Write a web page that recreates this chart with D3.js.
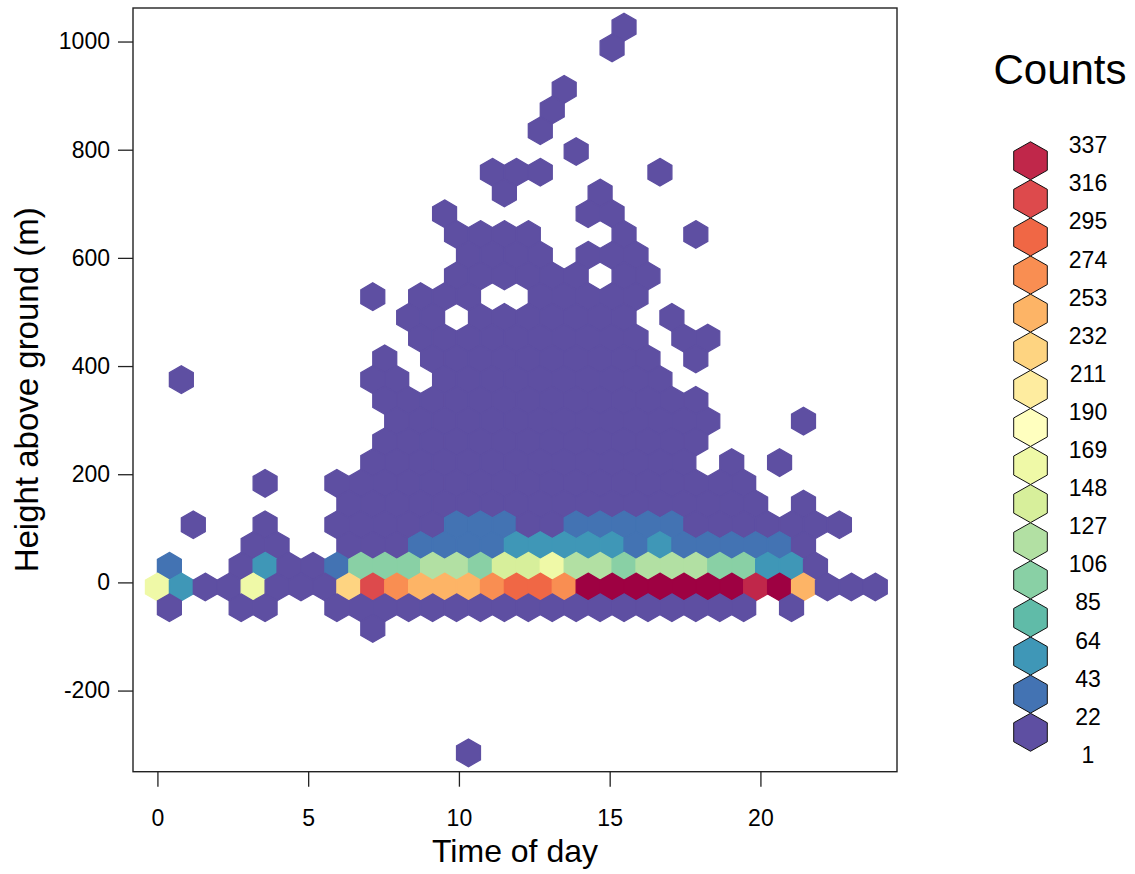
<!DOCTYPE html>
<html>
<head>
<meta charset="utf-8">
<script src="https://cdn.jsdelivr.net/npm/d3@7"></script>
<style>
  body { margin: 0; background: #fff; }
  text { font-family: "Liberation Sans", Arial, sans-serif; fill: #000; }
</style>
</head>
<body>
<svg id="chart" width="1135" height="874"></svg>
<script>
// tick labels
const xTicks = [0, 5, 10, 15, 20]
const yTicks = [-200, 0, 200, 400, 600, 800, 1000]
const legendBreaks = [1, 22, 43, 64, 85, 106, 127, 148, 169, 190, 211, 232, 253, 274, 295, 316, 337]

// hexbin cells, one row of the hex grid per entry (row 0 sits just below 0 m)
// rowStarts = column of the first value, 0 = empty cell
const rowIds = [27, 26, 24, 23, 22, 21, 20, 19, 18, 17, 16, 15, 14, 13, 12, 11, 10, 9, 8, 7, 6, 5, 4, 3, 2, 1, 0, -1, -2, -8]
const rowStarts = [19, 19, 17, 16, 16, 17, 14, 14, 12, 12, 13, 12, 9, 10, 11, 9, 1, 9, 10, 9, 9, 4, 8, 1, 4, 0, 0, 0, 9, 13]
const rowCounts = [
  [1],
  [2],
  [1],
  [1],
  [1],
  [1],
  [1, 2, 1, 0, 0, 0, 0, 1],
  [2, 0, 0, 0, 1],
  [1, 0, 0, 0, 0, 0, 2, 1],
  [2, 3, 2, 1, 0, 0, 0, 2, 0, 0, 1],
  [2, 3, 3, 2, 0, 2, 3, 1],
  [1, 3, 4, 3, 3, 4, 0, 3, 1],
  [1, 0, 2, 3, 2, 0, 0, 4, 3, 4, 3, 1],
  [1, 3, 0, 4, 5, 4, 5, 5, 4, 3, 0, 1],
  [2, 4, 5, 6, 5, 6, 7, 6, 4, 2, 0, 1, 1],
  [1, 0, 3, 5, 6, 7, 6, 7, 8, 7, 6, 4, 0, 1],
  [1, 0, 0, 0, 0, 0, 0, 0, 2, 3, 0, 5, 6, 8, 9, 8, 9, 8, 7, 5, 2],
  [1, 3, 5, 7, 8, 9, 10, 9, 10, 9, 8, 6, 3, 1],
  [2, 5, 7, 9, 10, 11, 10, 11, 10, 9, 8, 5, 3, 1, 0, 0, 0, 1],
  [1, 4, 6, 8, 10, 11, 10, 10, 11, 10, 9, 7, 4, 2],
  [2, 5, 7, 9, 10, 11, 10, 10, 10, 9, 9, 8, 5, 3, 0, 1, 0, 1],
  [1, 0, 0, 1, 3, 6, 8, 9, 10, 10, 10, 10, 10, 10, 9, 9, 8, 6, 4, 2, 1],
  [2, 5, 8, 9, 10, 10, 10, 10, 10, 10, 10, 10, 9, 8, 6, 4, 2, 1, 0, 1],
  [1, 0, 0, 1, 0, 0, 2, 5, 8, 10, 11, 24, 26, 22, 11, 10, 23, 25, 24, 22, 21, 9, 7, 5, 3, 2, 1, 1],
  [3, 2, 0, 0, 6, 9, 11, 22, 27, 29, 30, 44, 46, 45, 41, 40, 30, 43, 31, 28, 25, 24, 21, 7],
  [24, 0, 0, 8, 42, 9, 10, 25, 86, 88, 84, 104, 108, 90, 125, 128, 150, 105, 110, 91, 107, 112, 103, 86, 84, 45, 41, 6],
  [147, 44, 6, 5, 152, 7, 9, 10, 212, 296, 250, 230, 236, 233, 255, 275, 272, 252, 335, 337, 336, 337, 334, 336, 331, 318, 333, 229, 8, 4, 3],
  [3, 0, 0, 4, 5, 0, 0, 6, 8, 9, 9, 10, 10, 10, 10, 9, 10, 10, 9, 9, 8, 8, 7, 6, 4, 0, 2],
  [1],
  [1]
]

// hex grid as laid out by hexbin (30 columns over the time range)
const xStep = 23.81 / 30
const yStep = 38.34
const yOrigin = -8.5

const spectral = ['#9E0142', '#D53E4F', '#F46D43', '#FDAE61', '#FEE08B', '#FFFFBF',
  '#E6F598', '#ABDDA4', '#66C2A5', '#3288BD', '#5E4FA2'].reverse()
const ramp = d3.scaleLinear()
  .domain(d3.range(spectral.length).map(i => i / (spectral.length - 1)))
  .range(spectral)
  .interpolate(d3.interpolateRgb)
const nLevels = legendBreaks.length - 1
const breakStep = legendBreaks[1] - legendBreaks[0]
const countColor = c => ramp(Math.min(nLevels, Math.round((c - legendBreaks[0]) / breakStep)) / nLevels)

const cells = []
rowIds.forEach((j, k) => {
  rowCounts[k].forEach((c, n) => {
    if (!c) return
    const col = rowStarts[k] + n + (Math.abs(j) % 2 === 1 ? 0.5 : 0)
    cells.push({ t: col * xStep, h: yOrigin + j * yStep, count: c })
  })
})

const svg = d3.select('#chart')
const box = { left: 133, right: 897, top: 8, bottom: 771.7 }

const x = d3.scaleLinear().domain([-0.81, 24.53]).range([box.left, box.right])
const y = d3.scaleLinear().domain([-350, 1062]).range([box.bottom, box.top])

const hw = (x(xStep) - x(0)) / 2
const r = (y(0) - y(yStep)) / 1.5
const hexShape = (w, h) => [[0, -h], [w, -h / 2], [w, h / 2], [0, h], [-w, h / 2], [-w, -h / 2]]
const hexLine = d3.line().curve(d3.curveLinearClosed)

// hexagons
svg.append('g')
  .selectAll('path')
  .data(cells)
  .join('path')
  .attr('transform', d => `translate(${x(d.t)},${y(d.h)})`)
  .attr('d', hexLine(hexShape(hw, r)))
  .attr('fill', d => countColor(d.count))
  .attr('stroke', d => countColor(d.count))
  .attr('stroke-width', 1.3)
  .attr('stroke-linejoin', 'miter')

// frame
svg.append('rect')
  .attr('x', box.left)
  .attr('y', box.top)
  .attr('width', box.right - box.left)
  .attr('height', box.bottom - box.top)
  .attr('fill', 'none')
  .attr('stroke', '#222')
  .attr('stroke-width', 1.4)

const plain = d => String(d)

// x axis
const xAxis = svg.append('g')
  .attr('transform', `translate(0,${box.bottom})`)
  .call(d3.axisBottom(x).tickValues(xTicks).tickFormat(plain).tickSize(15).tickPadding(23))
xAxis.select('.domain').remove()
xAxis.selectAll('line').attr('stroke', '#222').attr('stroke-width', 1.3)
xAxis.selectAll('text')
  .attr('font-size', 23)
  .attr('font-family', '"Liberation Sans", Arial, sans-serif')
  .attr('fill', '#000')

// y axis
const yAxis = svg.append('g')
  .attr('transform', `translate(${box.left},0)`)
  .call(d3.axisLeft(y).tickValues(yTicks).tickFormat(plain).tickSize(15).tickPadding(8))
yAxis.select('.domain').remove()
yAxis.selectAll('line').attr('stroke', '#222').attr('stroke-width', 1.3)
yAxis.selectAll('text')
  .attr('font-size', 23)
  .attr('font-family', '"Liberation Sans", Arial, sans-serif')
  .attr('fill', '#000')

// axis titles
svg.append('text')
  .attr('x', (box.left + box.right) / 2)
  .attr('y', 862)
  .attr('text-anchor', 'middle')
  .attr('font-size', 32)
  .text('Time of day')

svg.append('text')
  .attr('transform', `translate(38,${(box.top + box.bottom) / 2}) rotate(-90)`)
  .attr('text-anchor', 'middle')
  .attr('font-size', 33)
  .text('Height above ground (m)')

// legend
const legend = svg.append('g')
legend.append('text')
  .attr('x', 1060)
  .attr('y', 84)
  .attr('text-anchor', 'middle')
  .attr('font-size', 42)
  .text('Counts')

const legendY = d3.scaleLinear().domain([0, nLevels]).range([751.3, 141.7])
const legendLevels = d3.range(nLevels)

legend.selectAll('path')
  .data(legendLevels)
  .join('path')
  .attr('transform', k => `translate(1030.5,${legendY(k + 0.5)})`)
  .attr('d', hexLine(hexShape(16.8, 19)))
  .attr('fill', k => ramp(k / nLevels))
  .attr('stroke', '#111')
  .attr('stroke-width', 1)

legend.selectAll('text.lab')
  .data(legendBreaks)
  .join('text')
  .attr('class', 'lab')
  .attr('x', 1088)
  .attr('y', (d, i) => legendY(i) + 3.5)
  .attr('dy', '0.35em')
  .attr('text-anchor', 'middle')
  .attr('font-size', 23)
  .text(d => d)
</script>
</body>
</html>
